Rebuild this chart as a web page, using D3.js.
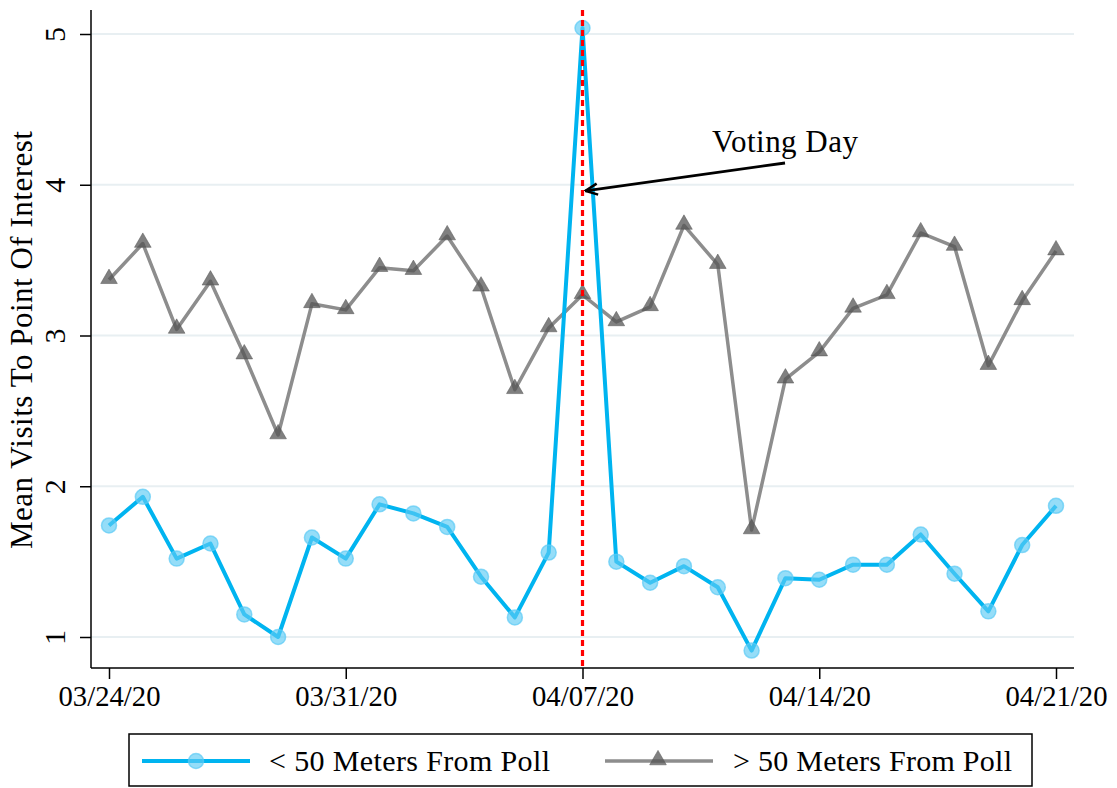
<!DOCTYPE html>
<html>
<head>
<meta charset="utf-8">
<script src="https://cdn.jsdelivr.net/npm/d3@7"></script>
<style>
  html, body { margin: 0; padding: 0; background: #fff; }
  svg { display: block; }
  text { font-family: "Liberation Serif", "DejaVu Serif", serif; fill: #000; }
</style>
</head>
<body>
<svg id="chart" width="1117" height="788"></svg>
<script>
// Daily dates, 03/24/20 through 04/21/20
const dates = [
  "2020-03-24","2020-03-25","2020-03-26","2020-03-27","2020-03-28","2020-03-29","2020-03-30",
  "2020-03-31","2020-04-01","2020-04-02","2020-04-03","2020-04-04","2020-04-05","2020-04-06",
  "2020-04-07","2020-04-08","2020-04-09","2020-04-10","2020-04-11","2020-04-12","2020-04-13",
  "2020-04-14","2020-04-15","2020-04-16","2020-04-17","2020-04-18","2020-04-19","2020-04-20",
  "2020-04-21"
];

// Mean visits, points of interest within 50 m of a polling place
const nearPoll = [
  1.74, 1.93, 1.52, 1.62, 1.15, 1.00, 1.66,
  1.52, 1.88, 1.82, 1.73, 1.40, 1.13, 1.56,
  5.04, 1.50, 1.36, 1.47, 1.33, 0.91, 1.39,
  1.38, 1.48, 1.48, 1.68, 1.42, 1.17, 1.61,
  1.87
];

// Mean visits, points of interest more than 50 m from a polling place
const farPoll = [
  3.37, 3.61, 3.04, 3.36, 2.87, 2.34, 3.21,
  3.17, 3.45, 3.43, 3.66, 3.32, 2.64, 3.05,
  3.27, 3.09, 3.19, 3.73, 3.47, 1.71, 2.71,
  2.89, 3.18, 3.27, 3.68, 3.59, 2.80, 3.23,
  3.56
];

const xTickDates = ["2020-03-24","2020-03-31","2020-04-07","2020-04-14","2020-04-21"];
const yTickValues = [1, 2, 3, 4, 5];
const votingDay = "2020-04-07";
const seriesLabels = ["< 50 Meters From Poll", "> 50 Meters From Poll"];
const yTitle = "Mean Visits To Point Of Interest";
const annotation = "Voting Day";

const parse = d3.timeParse("%Y-%m-%d");
const fmt = d3.timeFormat("%m/%d/%y");
const dts = dates.map(parse);

const svg = d3.select("#chart");

const plot = { left: 91, right: 1074, top: 10, bottom: 668 };

const x = d3.scaleTime()
  .domain([parse(dates[0]), parse(dates[dates.length - 1])])
  .range([109, 1056]);
const y = d3.scaleLinear().domain([1, 5]).range([637, 34]);

const blue = "#00b4f0";
const blueMarker = "#5ccbf5";
const gray = "#8d8d8d";
const grayMarker = "#555555";

// Horizontal grid lines
svg.append("g").selectAll("line").data(yTickValues).join("line")
  .attr("x1", plot.left).attr("x2", plot.right)
  .attr("y1", d => y(d)).attr("y2", d => y(d))
  .attr("stroke", "#e8eff2").attr("stroke-width", 1.8);

// Y axis
const yAxis = svg.append("g").attr("transform", `translate(${plot.left},0)`)
  .call(d3.axisLeft(y).tickValues(yTickValues).tickSize(11).tickSizeOuter(0).tickFormat(d3.format("d")));
yAxis.select(".domain").remove();
yAxis.selectAll(".tick line").attr("stroke", "#000").attr("stroke-width", 1.5);
yAxis.selectAll(".tick text")
  .attr("x", 0).attr("dy", 0)
  .attr("transform", "translate(-26,0) rotate(-90)")
  .attr("text-anchor", "middle")
  .style("font-size", "30px")
  .style("font-family", "'Liberation Serif', serif");
svg.append("line")
  .attr("x1", plot.left).attr("x2", plot.left)
  .attr("y1", plot.top).attr("y2", plot.bottom)
  .attr("stroke", "#000").attr("stroke-width", 1.5);

// X axis
const xAxis = svg.append("g").attr("transform", `translate(0,${plot.bottom})`)
  .call(d3.axisBottom(x).tickValues(xTickDates.map(parse)).tickSize(11).tickSizeOuter(0).tickFormat(fmt));
xAxis.select(".domain").remove();
xAxis.selectAll(".tick line").attr("stroke", "#000").attr("stroke-width", 1.5);
xAxis.selectAll(".tick text")
  .attr("y", 38).attr("dy", 0)
  .attr("textLength", 102).attr("lengthAdjust", "spacingAndGlyphs")
  .style("font-size", "30px")
  .style("font-family", "'Liberation Serif', serif");
svg.append("line")
  .attr("x1", plot.left).attr("x2", plot.right)
  .attr("y1", plot.bottom).attr("y2", plot.bottom)
  .attr("stroke", "#000").attr("stroke-width", 1.5);

// Y axis title
svg.append("text")
  .attr("transform", `translate(32,340) rotate(-90)`)
  .attr("text-anchor", "middle")
  .attr("textLength", 418).attr("lengthAdjust", "spacing")
  .style("font-size", "31px")
  .text(yTitle);

// Series lines and markers
const line = d3.line().x((d, i) => x(dts[i])).y(d => y(d));

svg.append("path").datum(farPoll)
  .attr("d", line).attr("fill", "none")
  .attr("stroke", gray).attr("stroke-width", 3.5).attr("stroke-linejoin", "round");

const tri = d3.symbol().type(d3.symbolTriangle).size(120);
svg.append("g").selectAll("path").data(farPoll).join("path")
  .attr("d", tri)
  .attr("transform", (d, i) => `translate(${x(dts[i])},${y(d) - 1})`)
  .attr("fill", grayMarker).attr("fill-opacity", 0.75)
  .attr("stroke", grayMarker).attr("stroke-opacity", 0.5).attr("stroke-width", 1);

svg.append("path").datum(nearPoll)
  .attr("d", line).attr("fill", "none")
  .attr("stroke", blue).attr("stroke-width", 4).attr("stroke-linejoin", "round");

svg.append("g").selectAll("circle").data(nearPoll).join("circle")
  .attr("cx", (d, i) => x(dts[i])).attr("cy", d => y(d))
  .attr("r", 7.5)
  .attr("fill", blueMarker).attr("fill-opacity", 0.65)
  .attr("stroke", blueMarker).attr("stroke-opacity", 0.7).attr("stroke-width", 1.5);

// Voting day reference line
const vx = x(parse(votingDay));
svg.append("line")
  .attr("x1", vx).attr("x2", vx)
  .attr("y1", plot.top).attr("y2", plot.bottom)
  .attr("stroke", "#ff0000").attr("stroke-width", 3.2)
  .attr("stroke-dasharray", "6,4");

// Annotation with arrow
svg.append("defs").append("marker")
  .attr("id", "arrowhead")
  .attr("viewBox", "0 0 14 14").attr("refX", 13).attr("refY", 7)
  .attr("markerWidth", 14).attr("markerHeight", 14)
  .attr("markerUnits", "userSpaceOnUse")
  .attr("orient", "auto")
  .append("path")
  .attr("d", "M1,1.5 L13,7 L1,12.5")
  .attr("fill", "none").attr("stroke", "#000").attr("stroke-width", 2.5)
  .attr("stroke-linejoin", "miter");

svg.append("line")
  .attr("x1", 785).attr("y1", 163)
  .attr("x2", vx + 3).attr("y2", y(3.96))
  .attr("stroke", "#000").attr("stroke-width", 2.8)
  .attr("marker-end", "url(#arrowhead)");

svg.append("text")
  .attr("x", 712).attr("y", 152)
  .attr("textLength", 146).attr("lengthAdjust", "spacing")
  .style("font-size", "31px")
  .text(annotation);

// Legend
const legend = svg.append("g");
legend.append("rect")
  .attr("x", 129).attr("y", 734).attr("width", 903).attr("height", 52)
  .attr("fill", "#fff").attr("stroke", "#000").attr("stroke-width", 1.5);

const ly = 761;
legend.append("line").attr("x1", 142).attr("x2", 250).attr("y1", ly).attr("y2", ly)
  .attr("stroke", blue).attr("stroke-width", 4);
legend.append("circle").attr("cx", 196).attr("cy", ly).attr("r", 7.5)
  .attr("fill", blueMarker).attr("fill-opacity", 0.65)
  .attr("stroke", blueMarker).attr("stroke-opacity", 0.7).attr("stroke-width", 1.5);
legend.append("text").attr("x", 269).attr("y", ly + 10)
  .attr("textLength", 281).attr("lengthAdjust", "spacing")
  .style("font-size", "30px").text(seriesLabels[0]);

legend.append("line").attr("x1", 605).attr("x2", 713).attr("y1", ly).attr("y2", ly)
  .attr("stroke", gray).attr("stroke-width", 3.5);
legend.append("path").attr("d", tri)
  .attr("transform", `translate(658,${ly - 1})`)
  .attr("fill", grayMarker).attr("fill-opacity", 0.75)
  .attr("stroke", grayMarker).attr("stroke-opacity", 0.5).attr("stroke-width", 1);
legend.append("text").attr("x", 733).attr("y", ly + 10)
  .attr("textLength", 279).attr("lengthAdjust", "spacing")
  .style("font-size", "30px").text(seriesLabels[1]);
</script>
</body>
</html>
